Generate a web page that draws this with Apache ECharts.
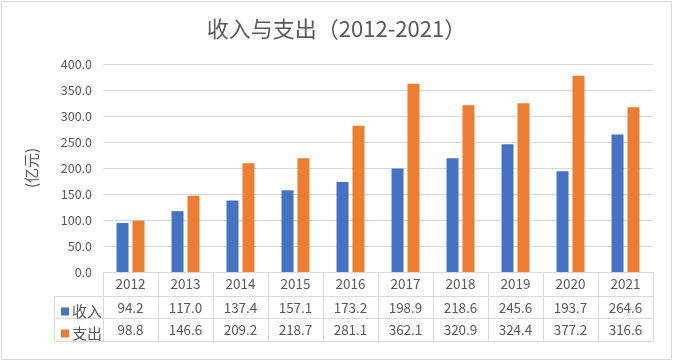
<!DOCTYPE html>
<html><head><meta charset="utf-8">
<script src="https://cdn.jsdelivr.net/npm/echarts@6/dist/echarts.min.js"></script>
<style>html,body{margin:0;padding:0;background:#fff}#c{width:673px;height:362px}</style>
</head><body><div id="c"></div>
<script>
var years = ['2012','2013','2014','2015','2016','2017','2018','2019','2020','2021'];
var income = [94.2,117.0,137.4,157.1,173.2,198.9,218.6,245.6,193.7,264.6];
var expense = [98.8,146.6,209.2,218.7,281.1,362.1,320.9,324.4,377.2,316.6];
var seriesNames = ['收入','支出'];
var titleText = '收入与支出（2012-2021）';
var yName = '(亿元)';

var FONT = '"Noto Sans CJK SC", "Noto Sans", sans-serif';
var TXT = '#595959';
var LINE = '#d9d9d9';
var chart = echarts.init(document.getElementById('c'));
function tableAxis(offset, vals, showTick) {
  return {
    type: 'category', data: years, position: 'bottom', offset: offset,
    gridIndex: 0,
    axisLine: {show: true, lineStyle: {color: LINE, width: 1}},
    axisTick: {show: showTick, length: 69, interval: 0, lineStyle: {color: LINE}},
    axisLabel: {show: !!vals, interval: 0, margin: 5, color: TXT, fontSize: 13.5, fontFamily: FONT,
      formatter: vals ? function (v, i) { return vals[i].toFixed(1); } : undefined}
  };
}
var x0 = tableAxis(0, null, true);
x0.axisLabel = {show: true, interval: 0, margin: 5, color: TXT, fontSize: 13.5, fontFamily: FONT};
chart.setOption({
  animation: false,
  textStyle: {fontFamily: FONT},
  title: {text: titleText, left: 'center', top: 13,
    textStyle: {fontSize: 22, fontWeight: 'normal', color: TXT, fontFamily: FONT}},
  grid: {left: 103, right: 20, top: 64, bottom: 90},
  legend: {orient: 'vertical', left: 56, top: 299, itemWidth: 8, itemHeight: 8, itemGap: 7,
    icon: 'rect', data: seriesNames,
    textStyle: {fontSize: 15, color: TXT, fontFamily: FONT, padding: [0,0,0,-2]}},
  xAxis: [x0, tableAxis(24, income, false), tableAxis(46, expense, false), tableAxis(69, null, false)],
  yAxis: {type: 'value', min: 0, max: 400, interval: 50,
    name: yName, nameLocation: 'middle', nameRotate: 90, nameGap: 64,
    nameTextStyle: {fontSize: 15, color: TXT, fontFamily: FONT},
    axisLine: {show: false}, axisTick: {show: false},
    axisLabel: {margin: 11, color: TXT, fontSize: 12.5, fontFamily: FONT,
      formatter: function (v) { return v.toFixed(1); }},
    splitLine: {lineStyle: {color: LINE}}},
  series: [
    {name: seriesNames[0], type: 'bar', data: income, barWidth: 12, barGap: '33%',
      itemStyle: {color: '#4472C4'}},
    {name: seriesNames[1], type: 'bar', data: expense, barWidth: 12, barGap: '33%',
      itemStyle: {color: '#ED7D31'}}
  ],
  graphic: [
    {type: 'rect', shape: {x: 1.5, y: 1.5, width: 670, height: 358}, style: {fill: 'none', stroke: LINE, lineWidth: 1}},
    {type: 'line', shape: {x1: 54.5, y1: 296.5, x2: 103, y2: 296.5}, style: {stroke: LINE}},
    {type: 'line', shape: {x1: 54.5, y1: 318.5, x2: 103, y2: 318.5}, style: {stroke: LINE}},
    {type: 'line', shape: {x1: 54.5, y1: 341.5, x2: 103, y2: 341.5}, style: {stroke: LINE}},
    {type: 'line', shape: {x1: 54.5, y1: 296.5, x2: 54.5, y2: 341.5}, style: {stroke: LINE}}
  ]
});
</script></body></html>
